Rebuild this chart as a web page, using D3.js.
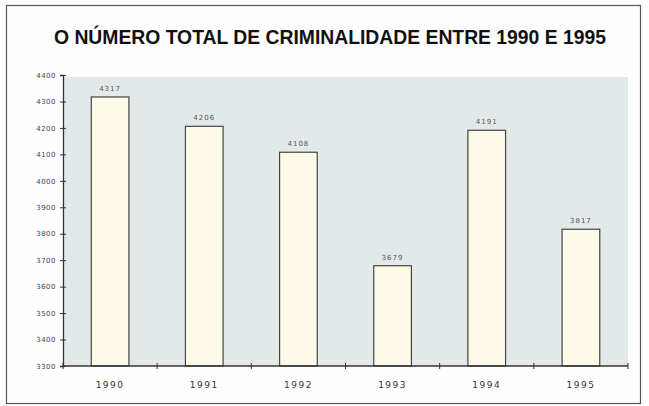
<!DOCTYPE html>
<html><head><meta charset="utf-8">
<script src="https://cdn.jsdelivr.net/npm/d3@7"></script>
<style>body{margin:0;background:#fff}svg{display:block}</style>
</head><body>
<script>
const years = ["1990","1991","1992","1993","1994","1995"];
const crimes = [4317, 4206, 4108, 3679, 4191, 3817];
const yTicks = [3300,3400,3500,3600,3700,3800,3900,4000,4100,4200,4300,4400];
const title = "O NÚMERO TOTAL DE CRIMINALIDADE ENTRE 1990 E 1995";

const W = 649, H = 406;
const svg = d3.select("body").append("svg").attr("width", W).attr("height", H);
svg.append("rect").attr("width", W).attr("height", H).attr("fill", "#fefefe");
svg.append("rect").attr("x", 6.5).attr("y", 5.5).attr("width", 634).attr("height", 398)
  .attr("fill", "none").attr("stroke", "#555").attr("stroke-width", 1.2);

svg.append("text").attr("x", 330).attr("y", 44).attr("text-anchor", "middle")
  .attr("font-family", "Liberation Sans, Arial, sans-serif").attr("font-weight", "bold")
  .attr("font-size", 20).attr("fill", "#111").attr("textLength", 552).attr("lengthAdjust", "spacingAndGlyphs")
  .text(title);

const m = {l: 63, r: 628, t: 75, b: 366};
const x = d3.scaleBand().domain(years).range([m.l, m.r]).paddingInner(0.6).paddingOuter(0.3);
const xb = d3.scaleBand().domain(years).range([m.l, m.r]);
const y = d3.scaleLinear().domain([3300, 4400]).range([m.b, m.t]);

svg.append("rect").attr("x", m.l).attr("y", m.t + 2).attr("width", m.r - m.l).attr("height", m.b - m.t - 2)
  .attr("fill", "#e3e9e9");

svg.selectAll("rect.bar").data(crimes).join("rect").attr("class", "bar")
  .attr("x", (d, i) => x(years[i]))
  .attr("y", d => y(d))
  .attr("width", x.bandwidth())
  .attr("height", d => m.b - y(d))
  .attr("fill", "#fdfbe8").attr("stroke", "#444").attr("stroke-width", 1.2);

svg.selectAll("text.val").data(crimes).join("text").attr("class", "val")
  .attr("x", (d, i) => x(years[i]) + x.bandwidth() / 2)
  .attr("y", d => y(d) - 6)
  .attr("text-anchor", "middle").attr("font-family", "DejaVu Sans, sans-serif")
  .attr("font-size", 7).attr("fill", "#555").attr("letter-spacing", 1)
  .text(d => d);

// y axis
const ya = svg.append("g").attr("transform", `translate(${m.l},0)`)
  .call(d3.axisLeft(y).tickValues(yTicks).tickSize(3).tickFormat(d3.format("d")));
ya.select(".domain").attr("stroke", "#333").attr("stroke-width", 1.3);
ya.selectAll(".tick line").attr("x2", 3).attr("x1", -3).attr("stroke", "#333");
ya.selectAll(".tick text").attr("x", -7).attr("font-family", "DejaVu Sans, sans-serif")
  .attr("font-size", 7).attr("fill", "#444").attr("letter-spacing", 0.5);

// x axis
const xa = svg.append("g").attr("transform", `translate(0,${m.b})`);
xa.append("line").attr("x1", m.l).attr("x2", m.r).attr("stroke", "#333").attr("stroke-width", 1.3);
const bounds = years.map(d => xb(d)).concat([m.r]);
xa.selectAll("line.tk").data(bounds).join("line").attr("class", "tk")
  .attr("x1", d => d).attr("x2", d => d).attr("y1", -3).attr("y2", 3).attr("stroke", "#333");
xa.selectAll("text").data(years).join("text")
  .attr("x", d => xb(d) + xb.bandwidth() / 2).attr("y", 22)
  .attr("text-anchor", "middle").attr("font-family", "DejaVu Sans, sans-serif")
  .attr("font-size", 9).attr("fill", "#333").attr("letter-spacing", 1.5)
  .text(d => d);
</script>
</body></html>
